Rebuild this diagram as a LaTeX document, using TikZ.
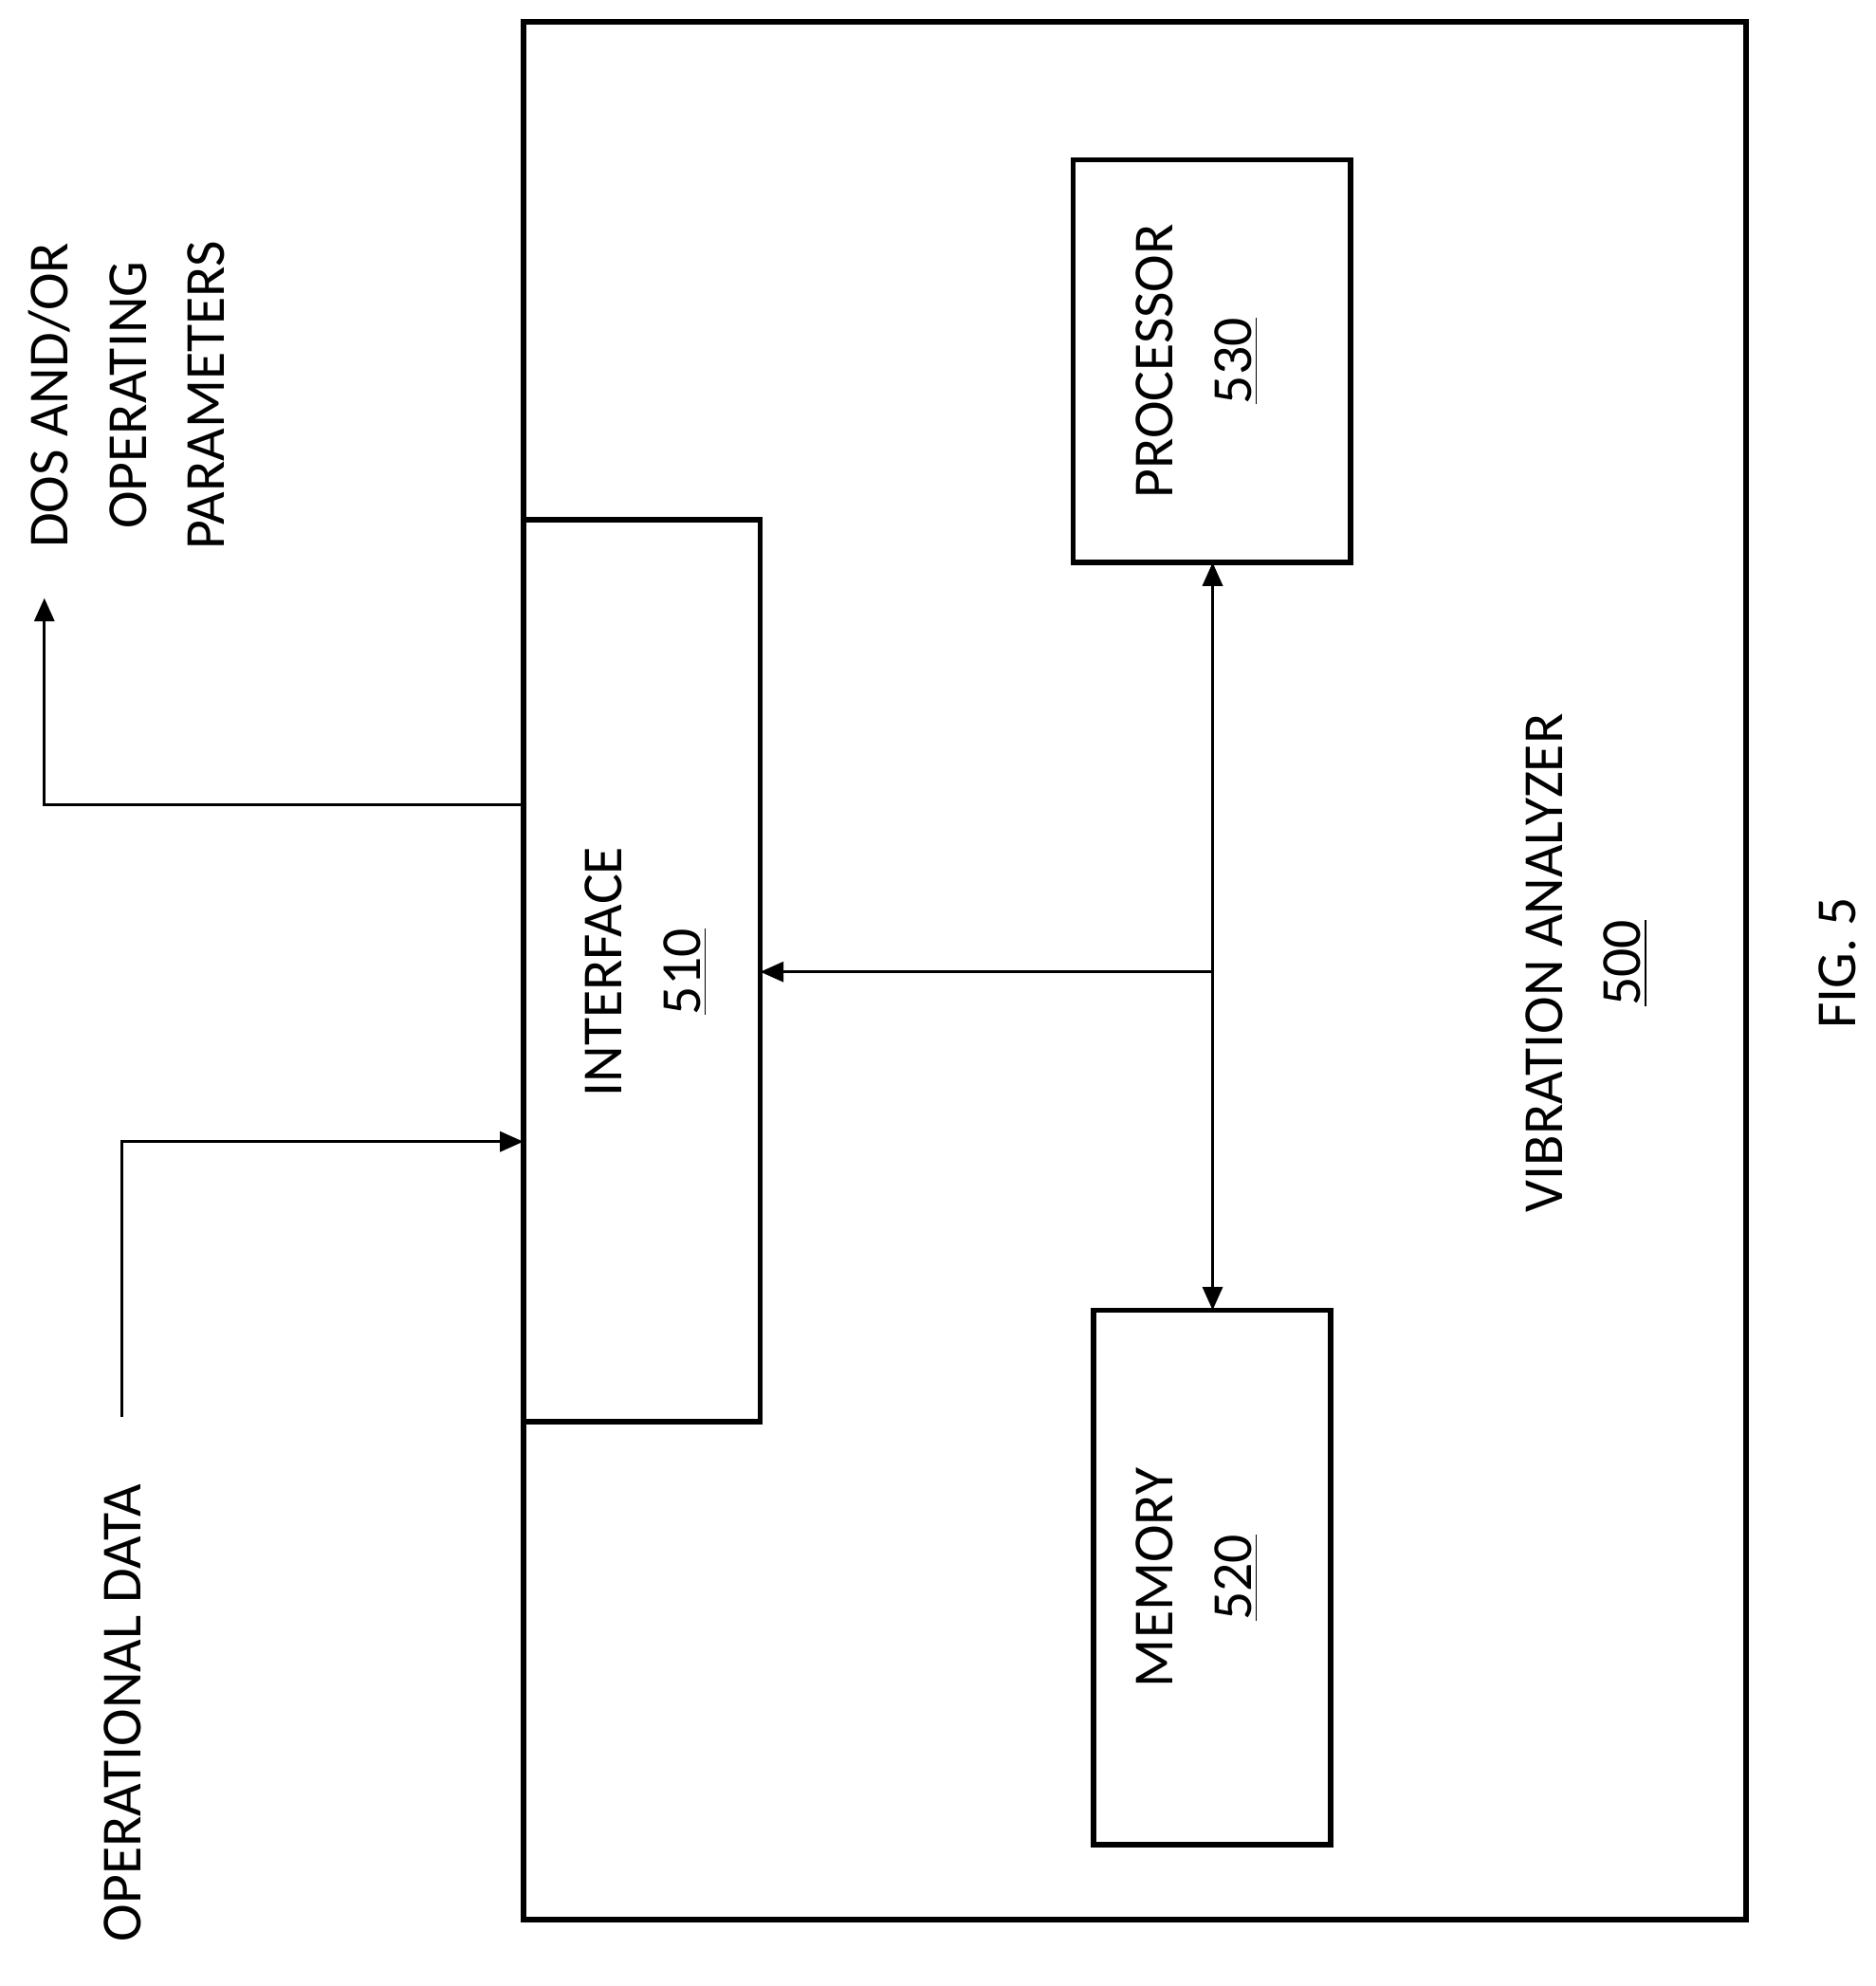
\documentclass[tikz,border=0pt]{standalone}
\usepackage{fontspec}
\setmainfont{Carlito}
\usetikzlibrary{arrows.meta}
\tikzset{
  blk/.style={draw, line width=1.6pt},
  lbl/.style={rotate=90, align=center, font=\fontsize{17}{23.5}\selectfont},
  sig/.style={line width=0.9pt, -{Triangle[length=7pt,width=6pt]}}
}
\begin{document}
\begin{tikzpicture}[x=0.01336cm, y=-0.01336cm]
  \useasboundingbox (0,0) rectangle (1480.5,1567.4);

  % boxes
  \draw[blk] (413,17) rectangle (1378,1515);
  \draw[blk, fill=white] (413,410) rectangle (600,1122);
  \draw[blk] (847,126) rectangle (1066,444);
  \draw[blk] (863,1034) rectangle (1050,1456);

  % nodes
  \node[lbl] (iface) at (510,767) {INTERFACE\\\underline{510}};
  \node[lbl] (proc) at (945,285) {PROCESSOR\\\underline{530}};
  \node[lbl] (mem) at (945,1245) {MEMORY\\\underline{520}};
  \node[lbl] (va) at (1252,760) {VIBRATION ANALYZER\\\underline{500}};
  \node[lbl] (fig) at (1450,760) {FIG. 5};
  \node[lbl] (out) at (100,312) {DOS AND/OR\\OPERATING\\PARAMETERS};
  \node[lbl] (in) at (97,1352) {OPERATIONAL DATA};

  \coordinate (pbot) at (957,444);
  \coordinate (mtop) at (957,1034);
  \coordinate (tap) at (957,767);
  \coordinate (iright) at (600,767);
  \coordinate (oleft) at (413,635);
  \coordinate (otip) at (35,472);
  \coordinate (istart) at (96,1118);
  \coordinate (ileft) at (413,901);

  % connectors
  \draw[sig, {Triangle[length=7pt,width=6pt]}-{Triangle[length=7pt,width=6pt]}] (pbot) -- (mtop);
  \draw[sig] (tap) -- (iright);
  \draw[sig] (oleft) -| (otip);
  \draw[sig] (istart) |- (ileft);
\end{tikzpicture}
\end{document}
